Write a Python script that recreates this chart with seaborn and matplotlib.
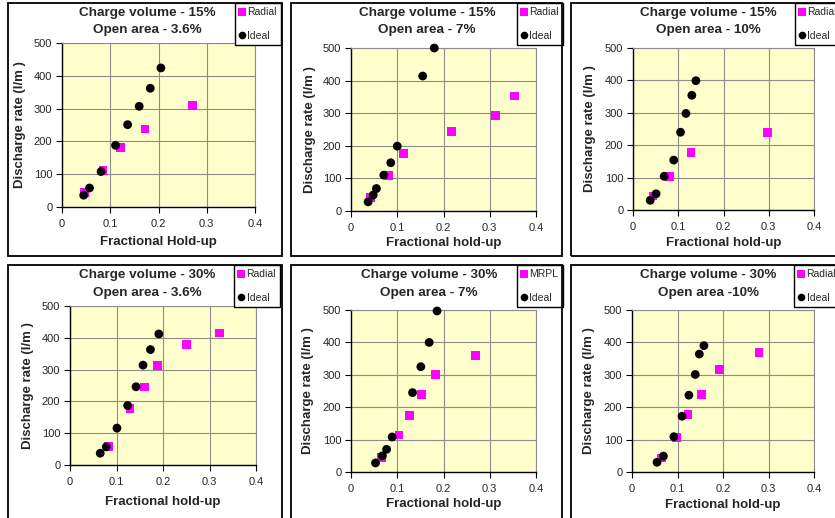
import matplotlib
matplotlib.use("Agg")
import matplotlib.pyplot as plt
from matplotlib.patches import Rectangle
from matplotlib.lines import Line2D
import pandas as pd
import seaborn as sns

# Fractional hold-up and discharge rate (l/m) for each charge volume / open area test
radial_x_15_36 = [0.046, 0.085, 0.121, 0.172, 0.271]
radial_y_15_36 = [45, 111, 182, 238, 310]
ideal_x_15_36 = [0.045, 0.057, 0.081, 0.111, 0.136, 0.160, 0.183, 0.205]
ideal_y_15_36 = [36, 58, 108, 188, 251, 307, 362, 424]

radial_x_15_7 = [0.043, 0.082, 0.113, 0.217, 0.313, 0.354]
radial_y_15_7 = [42, 110, 176, 243, 293, 353]
ideal_x_15_7 = [0.037, 0.048, 0.055, 0.071, 0.086, 0.100, 0.155, 0.180]
ideal_y_15_7 = [28, 49, 69, 110, 148, 199, 414, 500]

radial_x_15_10 = [0.044, 0.081, 0.128, 0.298]
radial_y_15_10 = [43, 103, 178, 240]
ideal_x_15_10 = [0.038, 0.051, 0.069, 0.090, 0.105, 0.117, 0.130, 0.139]
ideal_y_15_10 = [30, 50, 104, 154, 240, 298, 354, 399]

radial_x_30_36 = [0.083, 0.129, 0.160, 0.189, 0.251, 0.322]
radial_y_30_36 = [57, 177, 245, 314, 380, 415]
ideal_x_30_36 = [0.065, 0.078, 0.101, 0.124, 0.142, 0.157, 0.173, 0.191]
ideal_y_30_36 = [37, 57, 116, 187, 246, 314, 363, 412]

mrpl_x_30_7 = [0.066, 0.104, 0.127, 0.153, 0.182, 0.269]
mrpl_y_30_7 = [44, 114, 175, 239, 302, 360]
ideal_x_30_7 = [0.053, 0.068, 0.077, 0.089, 0.133, 0.151, 0.169, 0.186]
ideal_y_30_7 = [28, 50, 70, 108, 245, 325, 400, 497]

radial_x_30_10 = [0.064, 0.097, 0.123, 0.152, 0.193, 0.279]
radial_y_30_10 = [43, 107, 177, 240, 316, 370]
ideal_x_30_10 = [0.055, 0.069, 0.092, 0.110, 0.125, 0.139, 0.148, 0.158]
ideal_y_30_10 = [30, 49, 109, 172, 237, 301, 364, 390]

titles_top = ["Charge volume - 15%", "Charge volume - 15%", "Charge volume - 15%",
              "Charge volume - 30%", "Charge volume - 30%", "Charge volume - 30%"]
titles_bottom = ["Open area - 3.6%", "Open area - 7%", "Open area - 10%",
                 "Open area - 3.6%", "Open area - 7%", "Open area -10%"]
x_labels = ["Fractional Hold-up", "Fractional hold-up", "Fractional hold-up",
            "Fractional hold-up", "Fractional hold-up", "Fractional hold-up"]
square_labels = ["Radial", "Radial", "Radial", "Radial", "MRPL", "Radial"]
circle_label = "Ideal"
y_label = "Discharge rate (l/m )"
x_ticks = [0, 0.1, 0.2, 0.3, 0.4]
x_tick_labels = ["0", "0.1", "0.2", "0.3", "0.4"]
y_ticks = [0, 100, 200, 300, 400, 500]

series_data = [
    (radial_x_15_36, radial_y_15_36, ideal_x_15_36, ideal_y_15_36),
    (radial_x_15_7, radial_y_15_7, ideal_x_15_7, ideal_y_15_7),
    (radial_x_15_10, radial_y_15_10, ideal_x_15_10, ideal_y_15_10),
    (radial_x_30_36, radial_y_30_36, ideal_x_30_36, ideal_y_30_36),
    (mrpl_x_30_7, mrpl_y_30_7, ideal_x_30_7, ideal_y_30_7),
    (radial_x_30_10, radial_y_30_10, ideal_x_30_10, ideal_y_30_10),
]

# Layout in pixels: panel frame, plot area, title centre, label positions, legend corner
layout = [
    dict(frame=(8, 3, 282, 256), plot=(62, 43, 255, 207), title=(147, 13, 30), xlab=242, ylab=20, leg=(235, 3)),
    dict(frame=(291, 3, 562, 256), plot=(351, 48, 536, 211), title=(427, 13, 30), xlab=243, ylab=310, leg=(517, 3)),
    dict(frame=(571, 3, 845, 256), plot=(633, 48, 814, 210), title=(708, 13, 30), xlab=243, ylab=590, leg=(795, 3)),
    dict(frame=(8, 265, 282, 522), plot=(70, 306, 256, 465), title=(147, 275, 293), xlab=502, ylab=28, leg=(234, 265)),
    dict(frame=(291, 265, 562, 522), plot=(351, 310, 536, 472), title=(429, 275, 293), xlab=504, ylab=308, leg=(517, 265)),
    dict(frame=(571, 265, 845, 522), plot=(632, 310, 814, 472), title=(708, 275, 293), xlab=505, ylab=589, leg=(794, 265)),
]

sns.set_style("white")
plt.rcParams["font.family"] = ["Liberation Sans", "DejaVu Sans"]

W, H = 835, 518
fig = plt.figure(figsize=(W / 100, H / 100), dpi=100)
fig.patch.set_facecolor("white")


def fx(px):
    return px / W


def fy(py):
    return 1 - py / H


MAGENTA = "#FF00FF"
for i, (sx, sy, cx, cy) in enumerate(series_data):
    lay = layout[i]
    L, T, R, B = lay["plot"]

    # panel frame
    f0, f1, f2, f3 = lay["frame"]
    fig.add_artist(Rectangle((fx(f0), fy(f3)), fx(f2 - f0), (f3 - f1) / H,
                             transform=fig.transFigure, fill=False,
                             edgecolor="black", linewidth=1.3, zorder=1))

    ax = fig.add_axes([fx(L), fy(B), fx(R - L), (B - T) / H])
    ax.set_facecolor("#FFFFCC")

    sq = square_labels[i]
    df = pd.DataFrame({
        "holdup": list(sx) + list(cx),
        "rate": list(sy) + list(cy),
        "series": [sq] * len(sx) + [circle_label] * len(cx),
    })
    sns.scatterplot(data=df, x="holdup", y="rate", hue="series", style="series",
                    markers={sq: "s", circle_label: "o"},
                    palette={sq: MAGENTA, circle_label: "black"},
                    s=40, linewidth=0, legend=False, ax=ax, clip_on=False, zorder=3)

    ax.set_xlim(0, 0.4)
    ax.set_ylim(0, 500)
    ax.set_xticks(x_ticks)
    ax.set_xticklabels(x_tick_labels)
    ax.set_yticks(y_ticks)
    ax.tick_params(axis="both", which="major", labelsize=8, length=4, width=0.8,
                   color="black", direction="out", bottom=True, left=True)
    ax.tick_params(axis="x", pad=4.5)
    ax.tick_params(axis="y", pad=3)
    ax.grid(True, color="#8C8C8C", linewidth=0.8)
    ax.set_axisbelow(True)
    for side in ("left", "bottom"):
        ax.spines[side].set_color("black")
        ax.spines[side].set_linewidth(1.0)
    for side in ("top", "right"):
        ax.spines[side].set_color("#8C8C8C")
        ax.spines[side].set_linewidth(0.8)

    ax.set_xlabel(x_labels[i], fontsize=9.5, fontweight="bold")
    ax.xaxis.label.set_va("center")
    ax.xaxis.set_label_coords(0.5, -(lay["xlab"] - B) / (B - T))
    ax.set_ylabel(y_label, fontsize=9.5, fontweight="bold")
    ax.yaxis.label.set_va("center")
    ax.yaxis.set_label_coords((lay["ylab"] - L) / (R - L), 0.5)

    tcx, ty1, ty2 = lay["title"]
    fig.text(fx(tcx), fy(ty1), titles_top[i], ha="center", va="center",
             fontsize=9.7, fontweight="bold")
    fig.text(fx(tcx), fy(ty2), titles_bottom[i], ha="center", va="center",
             fontsize=9.7, fontweight="bold")

    handles = [
        Line2D([], [], linestyle="none", marker="s", markersize=5.5,
               markerfacecolor=MAGENTA, markeredgewidth=0, label=sq),
        Line2D([], [], linestyle="none", marker="o", markersize=5.5,
               markerfacecolor="black", markeredgewidth=0, label=circle_label),
    ]
    lx, ly = lay["leg"]
    leg = ax.legend(handles=handles, loc="upper left",
                    bbox_to_anchor=(fx(lx), fy(ly)), bbox_transform=fig.transFigure,
                    frameon=True, fancybox=False, framealpha=1, edgecolor="black",
                    fontsize=7.5, borderpad=0.4, labelspacing=1.3,
                    handlelength=0.55, handletextpad=0.25, borderaxespad=0)
    leg.get_frame().set_linewidth(1.0)
    leg.set_zorder(10)

fig.savefig("out.png", dpi=100)
